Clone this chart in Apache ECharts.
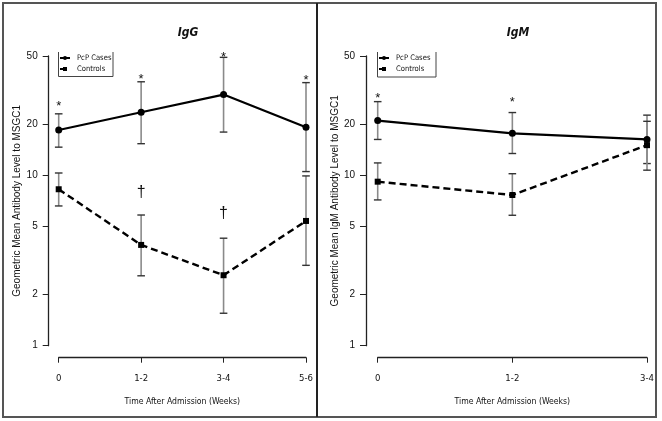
<!DOCTYPE html>
<html><head><meta charset="utf-8">
<script src="https://cdn.jsdelivr.net/npm/echarts@6/dist/echarts.min.js"></script>
<style>html,body{margin:0;padding:0;background:#fff}#c{width:662px;height:421px}</style>
</head><body><div id="c"></div>
<script>
const igGCats = ['0', '1-2', '3-4', '5-6'];
const igMCats = ['0', '1-2', '3-4'];
const yTicks = [1, 2, 5, 10, 20, 50];
const seriesNames = ['PcP Cases', 'Controls'];

const igGCases = [18.4, 23.4, 29.7, 19.1];
const igGCasesLow = [14.6, 15.3, 17.9, 10.5];
const igGCasesHigh = [22.9, 35.3, 49.1, 34.9];
const igGCtrl = [8.27, 3.9, 2.59, 5.39];
const igGCtrlLow = [6.6, 2.57, 1.55, 2.96];
const igGCtrlHigh = [10.3, 5.84, 4.27, 9.9];
const igGStars = [26.2, 37.7, 51.4, 37.5];
const igGDaggers = [null, 7.87, 5.92, null];

const igMCases = [20.9, 17.6, 16.2];
const igMCasesLow = [16.2, 13.4, 11.7];
const igMCasesHigh = [27.0, 23.3, 22.5];
const igMCtrl = [9.16, 7.65, 15.0];
const igMCtrlLow = [7.16, 5.82, 10.7];
const igMCtrlHigh = [11.8, 10.2, 20.7];
const igMStars = [29.5, 28.0, null];

const NARROW = '"Liberation Sans Narrow", "DejaVu Sans Condensed", "Arial Narrow", "Liberation Sans", Arial, sans-serif';
const REG = '"Liberation Sans", Arial, sans-serif';

function errData(low, high) { return low.map((l, i) => [i, l, high[i]]); }
function markData(vals) { return vals.map((v, i) => v == null ? null : [i, v]).filter(d => d); }

function errSeries(idx, low, high) {
  return {
    type: 'custom', xAxisIndex: idx, yAxisIndex: idx, z: 1, silent: true,
    data: errData(low, high), encode: { x: 0, y: [1, 2] },
    renderItem: function (params, api) {
      const a = api.coord([api.value(0), api.value(1)]);
      const b = api.coord([api.value(0), api.value(2)]);
      const hw = 3.8;
      return { type: 'group', children: [
        { type: 'line', shape: { x1: a[0], y1: a[1], x2: b[0], y2: b[1] }, style: { stroke: '#8a8a8a', lineWidth: 1.6 } },
        { type: 'line', shape: { x1: a[0] - hw, y1: a[1], x2: a[0] + hw, y2: a[1] }, style: { stroke: '#333', lineWidth: 1.4 } },
        { type: 'line', shape: { x1: b[0] - hw, y1: b[1], x2: b[0] + hw, y2: b[1] }, style: { stroke: '#333', lineWidth: 1.4 } }
      ] };
    }
  };
}
function textSeries(idx, vals, ch, size, dy) {
  return {
    type: 'custom', xAxisIndex: idx, yAxisIndex: idx, z: 5, silent: true, clip: false,
    data: markData(vals), encode: { x: 0, y: 1 },
    renderItem: function (params, api) {
      const p = api.coord([api.value(0), api.value(1)]);
      return { type: 'text', x: p[0], y: p[1] + dy, style: { text: ch, fill: '#111', font: size + 'px ' + REG, align: 'center', verticalAlign: 'middle' } };
    }
  };
}
function caseLine(idx, data) {
  return { name: seriesNames[0], type: 'line', xAxisIndex: idx, yAxisIndex: idx, data: data, z: 3,
    symbol: 'circle', symbolSize: 7, lineStyle: { color: '#000', width: 2.2 }, itemStyle: { color: '#000' } };
}
function ctrlLine(idx, data) {
  return { name: seriesNames[1], type: 'line', xAxisIndex: idx, yAxisIndex: idx, data: data, z: 3,
    symbol: 'rect', symbolSize: 6, lineStyle: { color: '#000', width: 2.4, type: [7, 4] }, itemStyle: { color: '#000' } };
}
function xAx(idx, cats) {
  return { type: 'category', gridIndex: idx, data: cats, boundaryGap: false, offset: 12,
    axisLine: { lineStyle: { color: '#222', width: 1.3 } },
    axisTick: { show: true, length: 5, alignWithLabel: true, lineStyle: { color: '#222' } },
    axisLabel: { color: '#111', fontSize: 9.5, fontFamily: NARROW, margin: 16 },
    name: 'Time After Admission (Weeks)', nameLocation: 'middle', nameGap: 40,
    nameTextStyle: { color: '#111', fontSize: 8.6, fontFamily: NARROW } };
}
function yAx(idx, name, off) {
  return { type: 'log', gridIndex: idx, min: 1, max: 50, offset: off,
    axisLine: { show: true, lineStyle: { color: '#222', width: 1.3 } },
    axisTick: { show: true, length: 6, customValues: yTicks, lineStyle: { color: '#222' } },
    axisLabel: { color: '#111', fontSize: 10, fontFamily: REG, margin: 11, customValues: yTicks },
    splitLine: { show: false },
    name: name, nameLocation: 'middle', nameGap: 25, nameRotate: 90,
    nameTextStyle: { color: '#111', fontSize: 10, fontFamily: REG } };
}
function legendBox(x1, x2, y1, y2) {
  return { type: 'polyline', shape: { points: [[x1, y1], [x1, y2], [x2, y2], [x2, y1]] }, style: { stroke: '#444', lineWidth: 1, fill: null } };
}

const chart = echarts.init(document.getElementById('c'));
chart.setOption({
  backgroundColor: '#fff',
  animation: false,
  title: [
    { text: 'IgG', left: 183, top: 22, textAlign: 'center', textStyle: { fontSize: 12, fontStyle: 'italic', fontWeight: 'bold', fontFamily: NARROW, color: '#111' } },
    { text: 'IgM', left: 513, top: 22, textAlign: 'center', textStyle: { fontSize: 12, fontStyle: 'italic', fontWeight: 'bold', fontFamily: NARROW, color: '#111' } }
  ],
  legend: [
    { data: seriesNames, left: 59, top: 54, orient: 'vertical', itemGap: 3, itemWidth: 10, itemHeight: 5, padding: 0, selectedMode: false,
      textStyle: { fontSize: 7.6, fontFamily: NARROW, color: '#111', padding: [0, 0, 0, 2] } },
    { data: seriesNames, left: 378, top: 54, orient: 'vertical', itemGap: 3, itemWidth: 10, itemHeight: 5, padding: 0, selectedMode: false,
      textStyle: { fontSize: 7.6, fontFamily: NARROW, color: '#111', padding: [0, 0, 0, 2] } }
  ],
  grid: [
    { left: 58.7, top: 56, width: 247.3, height: 289.7 },
    { left: 377.7, top: 56, width: 269.3, height: 289.7 }
  ],
  xAxis: [xAx(0, igGCats), xAx(1, igMCats)],
  yAxis: [yAx(0, 'Geometric Mean Antibody Level to MSGC1', 10), yAx(1, 'Geometric Mean IgM Antibody Level to MSGC1', 11.7)],
  series: [
    errSeries(0, igGCasesLow, igGCasesHigh),
    errSeries(0, igGCtrlLow, igGCtrlHigh),
    caseLine(0, igGCases),
    ctrlLine(0, igGCtrl),
    textSeries(0, igGStars, '*', 13, 3),
    textSeries(0, igGDaggers, '\u2020', 16, 0),
    errSeries(1, igMCasesLow, igMCasesHigh),
    errSeries(1, igMCtrlLow, igMCtrlHigh),
    caseLine(1, igMCases),
    ctrlLine(1, igMCtrl),
    textSeries(1, igMStars, '*', 13, 3)
  ],
  graphic: [
    { type: 'rect', shape: { x: 3, y: 3, width: 653, height: 414 }, style: { stroke: '#555', lineWidth: 2, fill: null }, z: 10 },
    { type: 'line', shape: { x1: 317, y1: 3, x2: 317, y2: 417 }, style: { stroke: '#222', lineWidth: 2 }, z: 10 },
    legendBox(58.5, 113, 52, 76.5),
    legendBox(377.5, 436, 52, 77)
  ]
});
</script></body></html>
